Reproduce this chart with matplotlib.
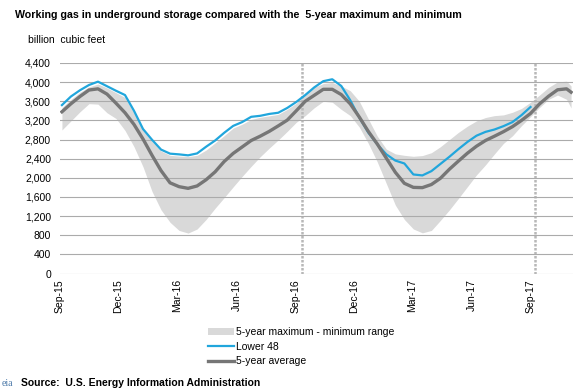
import pandas as pd
import matplotlib
matplotlib.use('Agg')
import matplotlib.pyplot as plt
import matplotlib.dates as mdates
from matplotlib.ticker import FuncFormatter, MultipleLocator

plt.rcParams['font.family'] = ['Liberation Sans', 'DejaVu Sans']

# two-week dates, plus last weekly point
dates = list(pd.date_range('2015-09-04', periods=57, freq='14D')) + [pd.Timestamp('2017-11-03')]

range_max = [3470, 3640, 3790, 3900, 3960, 3880, 3780, 3680, 3350, 2990,
             2760, 2560, 2470, 2455, 2445, 2470, 2580, 2730, 2880, 3040,
             3120, 3220, 3265, 3295, 3325, 3430, 3560, 3750, 3890, 3970,
             3990, 3920, 3820, 3600, 3230, 2870, 2600, 2500, 2470, 2450,
             2465, 2525, 2650, 2800, 2950, 3080, 3190, 3260, 3300, 3315,
             3370, 3450, 3580, 3730, 3890, 4005, 4020, 3920]
range_min = [3000, 3190, 3380, 3550, 3540, 3360, 3240, 2990, 2650, 2230,
             1715, 1330, 1070, 900, 845, 930, 1130, 1365, 1585, 1810,
             2030, 2240, 2440, 2620, 2790, 2970, 3160, 3300, 3465, 3600,
             3580, 3430, 3300, 3060, 2720, 2330, 1880, 1430, 1130, 930,
             850, 900, 1110, 1330, 1570, 1815, 2060, 2270, 2500, 2720,
             2880, 3090, 3280, 3470, 3640, 3730, 3640, 3460]
avg_5yr = [3380, 3548, 3700, 3835, 3860, 3750, 3560, 3360, 3115, 2810,
           2470, 2150, 1895, 1815, 1780, 1830, 1960, 2125, 2340, 2510,
           2645, 2780, 2870, 2970, 3085, 3205, 3400, 3600, 3725, 3850,
           3850, 3740, 3545, 3270, 2970, 2705, 2410, 2115, 1885, 1800,
           1795, 1860, 1990, 2180, 2350, 2515, 2660, 2780, 2870, 2965,
           3070, 3200, 3345, 3545, 3705, 3840, 3860, 3790]
lower48 = [3520, 3700, 3830, 3940, 4010, 3915, 3820, 3730, 3400, 3020,
           2795, 2590, 2505, 2490, 2470, 2510, 2650, 2780, 2940, 3085,
           3165, 3275, 3296, 3335, 3360, 3460, 3585, 3730, 3890, 4020,
           4060, 3920, 3620, 3260, 2945, 2700, 2490, 2360, 2300, 2070,
           2050, 2140, 2290, 2440, 2600, 2750, 2880, 2960, 3010, 3080,
           3165, 3310, 3480]
year_marks = ['2016-09-11', '2017-09-08']

fig = plt.figure(figsize=(5.85, 3.91), dpi=100)
ax = fig.add_axes([60/585, 1-273.5/391, 513/585, 210.5/391])

band = ax.fill_between(dates, range_min, range_max, color='#d9d9d9', lw=0, zorder=0.5,
                       label='5-year maximum - minimum range')
l48, = ax.plot(dates[:len(lower48)], lower48, color='#21a6dc', lw=1.6, zorder=3, label='Lower 48')
avg, = ax.plot(dates, avg_5yr, color='#767676', lw=2.4, zorder=3, label='5-year average')
for d in year_marks:
    ax.axvline(pd.Timestamp(d), color='#b8b8b8', lw=1.8, ls=(0, (1, 0.6)), zorder=1)

ax.set_ylim(0, 4400)
ax.set_xlim(pd.Timestamp('2015-09-01'), pd.Timestamp('2017-11-06'))
ax.yaxis.set_major_locator(MultipleLocator(400))
ax.yaxis.set_major_formatter(FuncFormatter(lambda v, p: f'{int(v):,}'))
ax.xaxis.set_major_locator(mdates.MonthLocator(bymonth=[3, 6, 9, 12]))
ax.xaxis.set_major_formatter(mdates.DateFormatter('%b-%y'))
ax.grid(axis='y', color='#ababab', lw=0.8)
ax.set_axisbelow(False)
for s in ax.spines.values():
    s.set_visible(False)
ax.tick_params(axis='both', length=0, labelsize=7.5, colors='#000000')
ax.tick_params(axis='y', pad=6.5)
ax.tick_params(axis='x', pad=4)
plt.setp(ax.get_xticklabels(), rotation=90)

fig.text(15/585, 1-15/391, 'Working gas in underground storage compared with the  5-year maximum and minimum',
         fontsize=7.7, fontweight='bold', va='center', ha='left')
fig.text(28/585, 1-40/391, 'billion  cubic feet', fontsize=7.5, va='center', ha='left')

fig.legend(handles=[band, l48, avg], loc='upper left', bbox_to_anchor=(208/585, 1-327/391),
           frameon=False, fontsize=7.5, handlelength=2.5, handletextpad=0.2,
           labelspacing=0.45, borderaxespad=0, borderpad=0)

fig.text(2/585, 1-383/391, 'eia', fontsize=7, color='#4a78a8', va='center', ha='left',
         family='Liberation Serif')
fig.text(21/585, 1-383/391, 'Source:  U.S. Energy Information Administration',
         fontsize=7.5, fontweight='bold', va='center', ha='left')

fig.savefig('out.png', dpi=100)
